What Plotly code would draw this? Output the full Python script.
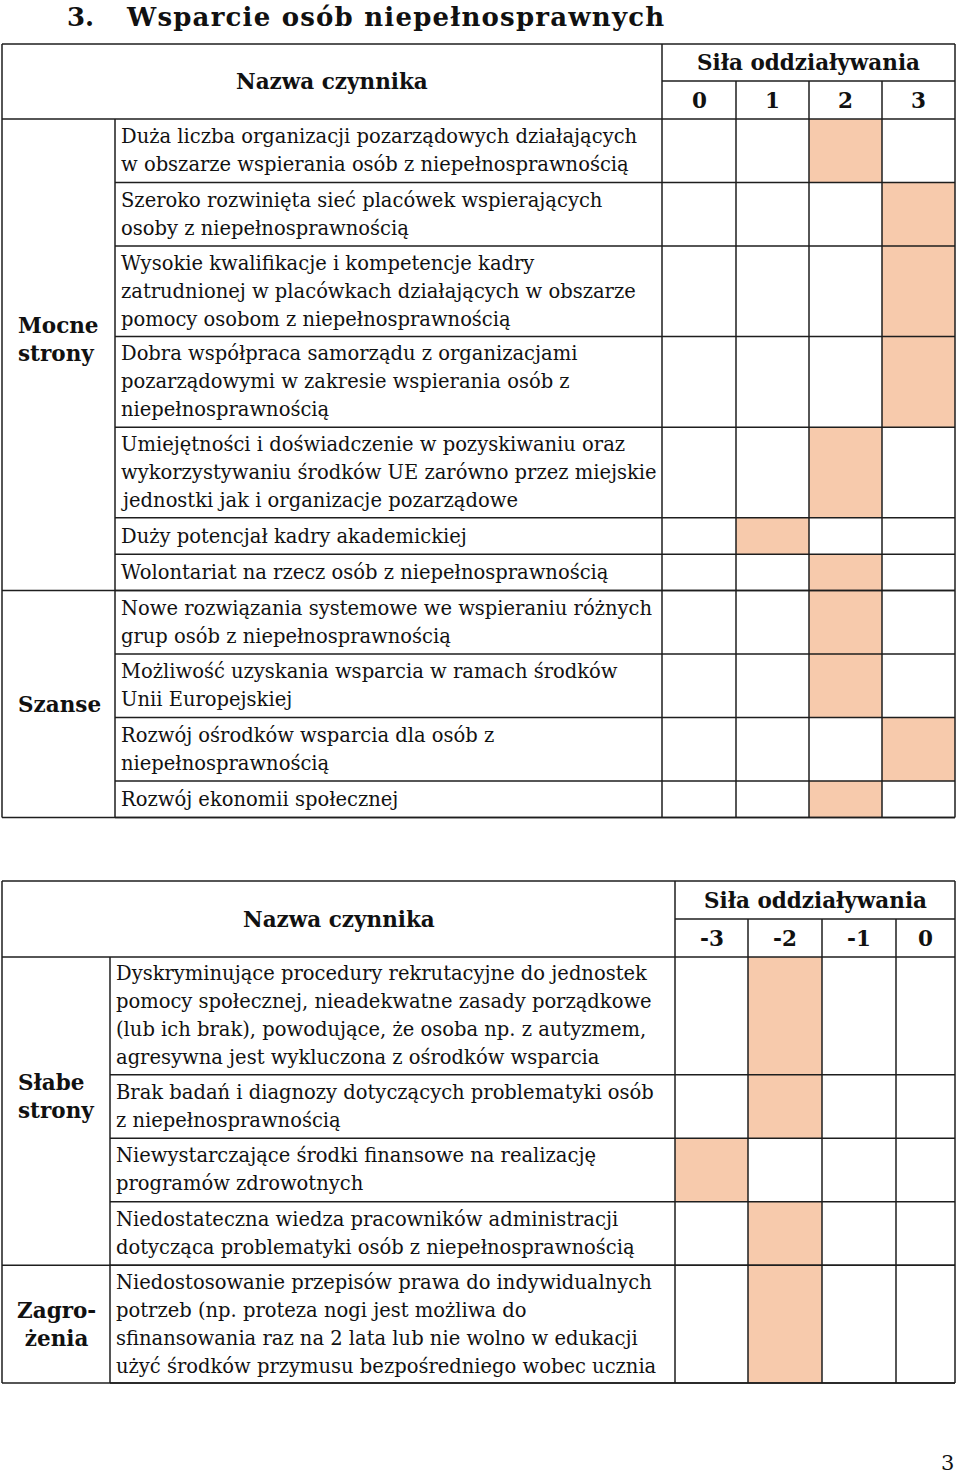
import plotly.graph_objects as go

# Tabela 1 - mocne strony i szanse
mocne_czynniki = [
    ["Duża liczba organizacji pozarządowych działających",
     "w obszarze wspierania osób z niepełnosprawnością"],
    ["Szeroko rozwinięta sieć placówek wspierających",
     "osoby z niepełnosprawnością"],
    ["Wysokie kwalifikacje i kompetencje kadry",
     "zatrudnionej w placówkach działających w obszarze",
     "pomocy osobom z niepełnosprawnością"],
    ["Dobra współpraca samorządu z organizacjami",
     "pozarządowymi w zakresie wspierania osób z",
     "niepełnosprawnością"],
    ["Umiejętności i doświadczenie w pozyskiwaniu oraz",
     "wykorzystywaniu środków UE zarówno przez miejskie",
     "jednostki jak i organizacje pozarządowe"],
    ["Duży potencjał kadry akademickiej"],
    ["Wolontariat na rzecz osób z niepełnosprawnością"],
]
mocne_sila = [2, 3, 3, 3, 2, 1, 2]

szanse_czynniki = [
    ["Nowe rozwiązania systemowe we wspieraniu różnych",
     "grup osób z niepełnosprawnością"],
    ["Możliwość uzyskania wsparcia w ramach środków",
     "Unii Europejskiej"],
    ["Rozwój ośrodków wsparcia dla osób z",
     "niepełnosprawnością"],
    ["Rozwój ekonomii społecznej"],
]
szanse_sila = [2, 2, 3, 2]

# Tabela 2 - słabe strony i zagrożenia
slabe_czynniki = [
    ["Dyskryminujące procedury rekrutacyjne do jednostek",
     "pomocy społecznej, nieadekwatne zasady porządkowe",
     "(lub ich brak), powodujące, że osoba np. z autyzmem,",
     "agresywna jest wykluczona z ośrodków wsparcia"],
    ["Brak badań i diagnozy dotyczących problematyki osób",
     "z niepełnosprawnością"],
    ["Niewystarczające środki finansowe na realizację",
     "programów zdrowotnych"],
    ["Niedostateczna wiedza pracowników administracji",
     "dotycząca problematyki osób z niepełnosprawnością"],
]
slabe_sila = [-2, -2, -3, -2]

zagrozenia_czynniki = [
    ["Niedostosowanie przepisów prawa do indywidualnych",
     "potrzeb (np. proteza nogi jest możliwa do",
     "sfinansowania raz na 2 lata lub nie wolno w edukacji",
     "użyć środków przymusu bezpośredniego wobec ucznia"],
]
zagrozenia_sila = [-2]

skala_plus = [0, 1, 2, 3]
skala_minus = [-3, -2, -1, 0]

FONT = "DejaVu Serif"
LINIA = "#1e1e1e"
ROZ = "#f7caac"
W, H = 960, 1477
ODST = 28          # odstęp między liniami tekstu
FS = 19.5          # rozmiar tekstu czynników
FB = 21.5          # rozmiar pogrubionych nagłówków

fig = go.Figure()


def linia(x0, y0, x1, y1):
    fig.add_shape(type="line", x0=x0, y0=y0, x1=x1, y1=y1,
                  xref="x", yref="y", line=dict(color=LINIA, width=1.5))


def tekst(x, y, t, size=FS, bold=False, xanchor="center", yanchor="middle",
          align="left", yshift=0):
    if bold:
        t = "<b>" + t + "</b>"
    fig.add_annotation(x=x, y=y, text=t, xref="x", yref="y", showarrow=False,
                       xanchor=xanchor, yanchor=yanchor, align=align, yshift=yshift,
                       font=dict(family=FONT, size=size, color="#111"))


# rysuje jedną tabelę; kol = krawędzie kolumn, y0 = góra, y_sk = podział nagłówka
def rysuj_tabele(grupy, skala, kol, y0, y_sk, y_w, styl_grup):
    wiersze = []
    zakresy = []
    y = y_w
    for nazwa, czynniki, sila in grupy:
        g0 = y
        for linie, s in zip(czynniki, sila):
            h = 9.3 + 27.1 * len(linie)
            wiersze.append((y, y + h, linie, s))
            y += h
        zakresy.append((nazwa, g0, y))
    y_kon = y

    # zaznaczone komórki siły oddziaływania
    y_kraw = [w[0] for w in wiersze] + [y_kon]
    z = [[1 if w[3] == v else 0 for v in skala] for w in wiersze]
    fig.add_trace(go.Heatmap(
        x=kol[2:], y=y_kraw, z=z,
        colorscale=[[0, "white"], [1, ROZ]], zmin=0, zmax=1,
        showscale=False, hoverinfo="skip"
    ))

    # linie siatki
    for yy in [y0, y_w] + [g[2] for g in zakresy]:
        linia(kol[0], yy, kol[-1], yy)
    for w in wiersze:
        linia(kol[1], w[1], kol[-1], w[1])
    linia(kol[2], y_sk, kol[-1], y_sk)
    for xx in [kol[0], kol[2], kol[-1]]:
        linia(xx, y0, xx, y_kon)
    linia(kol[1], y_w, kol[1], y_kon)
    for xx in kol[3:-1]:
        linia(xx, y_sk, xx, y_kon)

    # nagłówki
    tekst((kol[0] + kol[2]) / 2, (y0 + y_w) / 2, "Nazwa czynnika", size=FB, bold=True)
    tekst((kol[2] + kol[-1]) / 2, (y0 + y_sk) / 2, "Siła oddziaływania", size=FB, bold=True)
    for i, v in enumerate(skala):
        tekst((kol[2 + i] + kol[3 + i]) / 2, (y_sk + y_w) / 2, str(v), size=FB, bold=True)

    # treść czynników, linia po linii
    for top, bot, linie, _ in wiersze:
        sr = (top + bot) / 2
        for i, t in enumerate(linie):
            tekst(kol[1] + 4, sr + (i - (len(linie) - 1) / 2) * ODST, t, xanchor="left")

    # nazwy grup
    for (nazwa, g0, g1), st in zip(zakresy, styl_grup):
        if st["align"] == "center":
            tekst((kol[0] + kol[1]) / 2, (g0 + g1) / 2, nazwa, size=FB, bold=True,
                  align="center", yshift=st["yshift"])
        else:
            tekst(kol[0] + 14, (g0 + g1) / 2, nazwa, size=FB, bold=True,
                  xanchor="left", yshift=st["yshift"])


rysuj_tabele(
    [("Mocne<br>strony", mocne_czynniki, mocne_sila),
     ("Szanse", szanse_czynniki, szanse_sila)],
    skala_plus, [2, 115, 662, 736, 809, 882, 955], 44, 81, 119,
    [dict(align="left", yshift=15), dict(align="left", yshift=0)]
)
rysuj_tabele(
    [("Słabe<br>strony", slabe_czynniki, slabe_sila),
     ("Zagro-<br>żenia", zagrozenia_czynniki, zagrozenia_sila)],
    skala_minus, [2, 110, 675, 748, 822, 896, 955], 881, 919, 957,
    [dict(align="left", yshift=15), dict(align="center", yshift=0)]
)

# tytuł i numer strony
tekst(65, 0, "3.", size=26, bold=True, xanchor="left", yanchor="top")
tekst(124, 0, '<span style="letter-spacing:1.2px">Wsparcie osób niepełnosprawnych</span>',
      size=26, bold=True, xanchor="left", yanchor="top")
tekst(956, 1477, "3", size=21, xanchor="right", yanchor="bottom")

fig.update_layout(
    width=W, height=H,
    margin=dict(l=0, r=0, t=0, b=0),
    paper_bgcolor="white",
    plot_bgcolor="white",
    showlegend=False,
    xaxis=dict(range=[0, W], visible=False, fixedrange=True),
    yaxis=dict(range=[H, 0], visible=False, fixedrange=True),
)

fig.write_html("out.html", config={"displayModeBar": False},
               post_script="document.body.style.margin='0px';")
